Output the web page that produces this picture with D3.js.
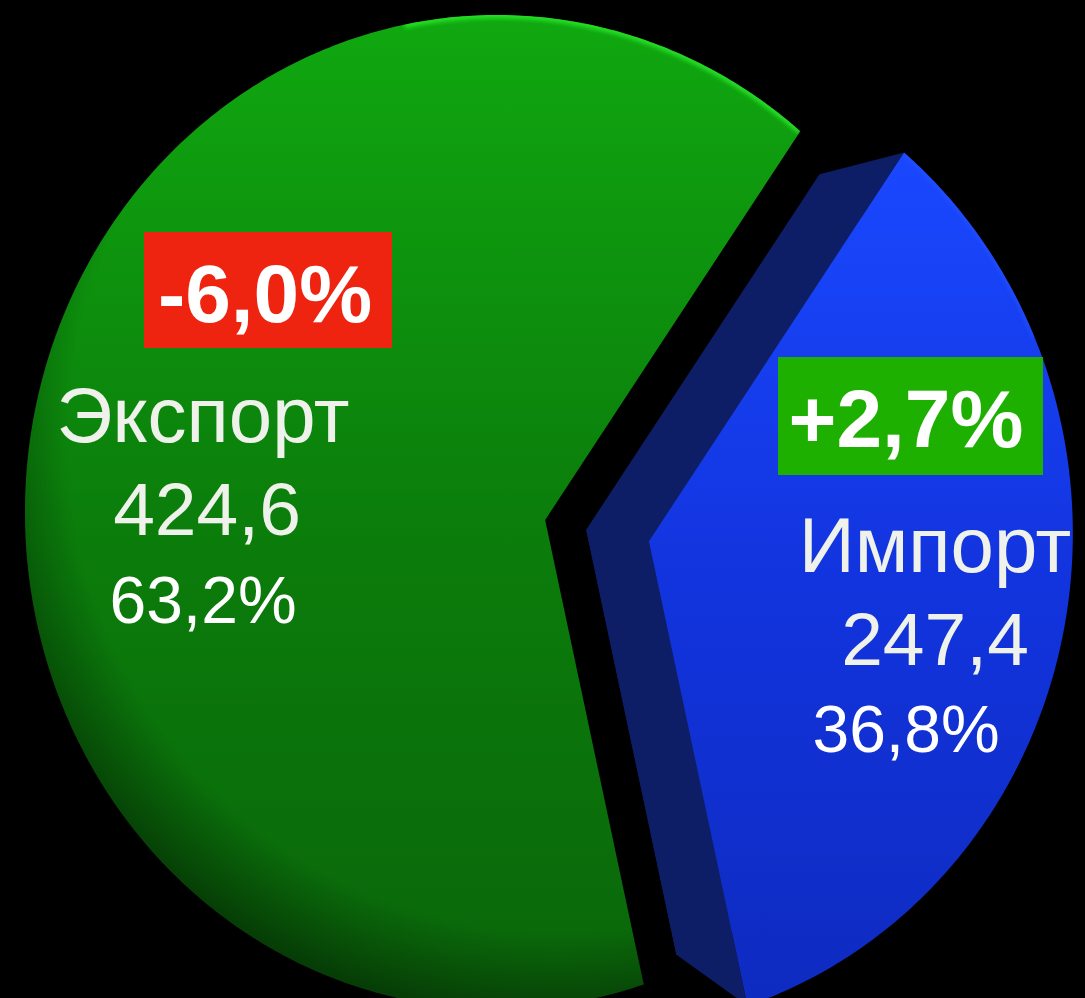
<!DOCTYPE html>
<html>
<head>
<meta charset="utf-8">
<script src="https://cdn.jsdelivr.net/npm/d3@7"></script>
<style>
  html, body { margin: 0; background: #000; }
  svg { display: block; }
</style>
</head>
<body>
<div id="chart"></div>
<script>
// data
const CATEGORIES = ["Экспорт", "Импорт"];
const VALUES = [424.6, 247.4];
const CHANGES = [-6.0, 2.7];

const width = 1085;
const height = 998;

// perspective pie geometry (projected top face)
const ELLIPSE = { cx: 497, cy: 512, rx: 472, ry: 497 };
const APEX_OFFSET = [0.102, 0.016];   // where the pie centre lands inside the ellipse
const START_ANGLE = 167.3 * Math.PI / 180;
const EXPLODE = [0, 106];             // px, per slice
const DEPTH_VP = [-89, 407];          // vanishing point for slice thickness
const DEPTH_K = 0.915;

const TOP_COLORS = [["#10a810", "#0b7e0b", "#0a660a"], ["#1a48ff", "#1234de", "#0e2bc0"]];
const SIDE_COLOR = ["#064a06", "#0e1e66"];
const HIGHLIGHT = ["#2cf02c", "#2c58ff"];
const CHANGE_UP = "#1db000";
const CHANGE_DOWN = "#ee2310";

const LABEL_LAYOUT = [
    { name: [203, 442], value: [207, 535], share: [203, 623], box: [144, 232, 248, 116], change: [265, 322] },
    { name: [935, 572], value: [935, 665], share: [906, 752], box: [778, 357, 265, 118], change: [906, 447] }
];

const FONT = "'Liberation Sans', Arial, Helvetica, sans-serif";

const locale = d3.formatLocale({ decimal: ",", thousands: " ", grouping: [3], currency: ["", ""], minus: "-" });
const fmt1 = locale.format(".1f");
const fmtChange = locale.format("+.1f");

const total = d3.sum(VALUES);
const data = CATEGORIES.map((name, i) => ({ name, value: VALUES[i], change: CHANGES[i] }));

const pie = d3.pie()
    .value(d => d.value)
    .sort(null)
    .startAngle(START_ANGLE)
    .endAngle(START_ANGLE + 2 * Math.PI);

const arcs = pie(data);

// unit circle -> projective "boost" so the centre lands on APEX_OFFSET -> ellipse
function project(theta, rad = 1) {
    const ux = Math.sin(theta) * rad, uy = -Math.cos(theta) * rad;
    const r = Math.hypot(APEX_OFFSET[0], APEX_OFFSET[1]);
    const ex = APEX_OFFSET[0] / r, ey = APEX_OFFSET[1] / r;
    const s = ux * ex + uy * ey;
    const tx = ux - s * ex, ty = uy - s * ey;
    const den = 1 + r * s;
    const s2 = (s + r) / den;
    const f = Math.sqrt(1 - r * r) / den;
    const x = s2 * ex + tx * f, y = s2 * ey + ty * f;
    return [ELLIPSE.cx + x * ELLIPSE.rx, ELLIPSE.cy + y * ELLIPSE.ry];
}

function slicePoints(a, offset) {
    const n = Math.max(8, Math.ceil((a.endAngle - a.startAngle) / 0.01));
    const pts = [project(0, 0)];
    d3.range(n + 1).forEach(k => {
        pts.push(project(a.startAngle + (a.endAngle - a.startAngle) * k / n));
    });
    return pts.map(p => [p[0] + offset[0], p[1] + offset[1]]);
}

function explodeOffset(a, dist) {
    if (!dist) return [0, 0];
    const c = project(0, 0);
    const m = project((a.startAngle + a.endAngle) / 2);
    const len = Math.hypot(m[0] - c[0], m[1] - c[1]);
    return [(m[0] - c[0]) / len * dist, (m[1] - c[1]) / len * dist];
}

const toBack = p => [DEPTH_VP[0] + DEPTH_K * (p[0] - DEPTH_VP[0]), DEPTH_VP[1] + DEPTH_K * (p[1] - DEPTH_VP[1])];

const line = d3.line().curve(d3.curveLinearClosed);

const svg = d3.select("#chart")
    .append("svg")
    .attr("width", width)
    .attr("height", height)
    .attr("viewBox", `0 0 ${width} ${height}`)
    .style("background", "#000");

const defs = svg.append("defs");

TOP_COLORS.forEach((c, i) => {
    const g = defs.append("linearGradient")
        .attr("id", `top${i}`)
        .attr("x1", 0).attr("y1", 0).attr("x2", 0).attr("y2", 1);
    g.append("stop").attr("offset", "0%").attr("stop-color", c[0]);
    g.append("stop").attr("offset", "50%").attr("stop-color", c[1]);
    g.append("stop").attr("offset", "100%").attr("stop-color", c[2]);
});

// soft darkening toward the lower-left rim of the big slice
const edge = defs.append("radialGradient")
    .attr("id", "edgeShade")
    .attr("gradientUnits", "userSpaceOnUse")
    .attr("cx", 560).attr("cy", 440).attr("r", 600);
edge.append("stop").attr("offset", "82%").attr("stop-color", "#000").attr("stop-opacity", 0);
edge.append("stop").attr("offset", "100%").attr("stop-color", "#000").attr("stop-opacity", 0.5);

defs.append("filter").attr("id", "soft")
    .append("feGaussianBlur").attr("stdDeviation", 2);

const slices = svg.append("g")
    .selectAll("g")
    .data(arcs)
    .join("g");

slices.each(function(a, i) {
    const g = d3.select(this);
    const off = explodeOffset(a, EXPLODE[i]);
    const top = slicePoints(a, off);
    const apex = top[0];
    const first = top[1];
    const last = top[top.length - 1];

    // thickness: back face and the two radial faces
    if (EXPLODE[i]) {
        g.append("path")
            .attr("d", line(top.map(toBack)))
            .attr("fill", SIDE_COLOR[i]);
        [first, last].forEach(p => {
            g.append("path")
                .attr("d", line([apex, p, toBack(p), toBack(apex)]))
                .attr("fill", SIDE_COLOR[i]);
        });
    }

    g.append("clipPath").attr("id", `clip${i}`)
        .append("path").attr("d", line(top));

    g.append("path")
        .attr("d", line(top))
        .attr("fill", `url(#top${i})`);

    if (i === 0) {
        g.append("path")
            .attr("d", line(top))
            .attr("fill", "url(#edgeShade)");
    }

    // bright rim highlight near the top
    const hiStart = i === 0 ? a.endAngle - 0.9 : a.startAngle;
    const hiEnd = i === 0 ? a.endAngle : a.startAngle + 0.5;
    const hi = d3.range(0, 41).map(k => project(hiStart + (hiEnd - hiStart) * k / 40))
        .map(p => [p[0] + off[0], p[1] + off[1]]);
    g.append("path")
        .attr("d", d3.line()(hi))
        .attr("fill", "none")
        .attr("stroke", HIGHLIGHT[i])
        .attr("stroke-width", i === 0 ? 7 : 5)
        .attr("stroke-opacity", i === 0 ? 0.8 : 0.5)
        .attr("filter", "url(#soft)")
        .attr("clip-path", `url(#clip${i})`);
});

// labels
const labels = svg.append("g")
    .style("font-family", FONT)
    .attr("text-anchor", "middle");

data.forEach((d, i) => {
    const L = LABEL_LAYOUT[i];
    labels.append("text")
        .attr("x", L.name[0]).attr("y", L.name[1])
        .style("font-size", "78px")
        .attr("fill", "#eef2ea")
        .text(d.name);
    labels.append("text")
        .attr("x", L.value[0]).attr("y", L.value[1])
        .style("font-size", "75px")
        .attr("fill", "#eef2ea")
        .text(fmt1(d.value));
    labels.append("text")
        .attr("x", L.share[0]).attr("y", L.share[1])
        .style("font-size", "66px")
        .attr("fill", "#ffffff")
        .text(fmt1(d.value / total * 100) + "%");

    labels.append("rect")
        .attr("x", L.box[0]).attr("y", L.box[1])
        .attr("width", L.box[2]).attr("height", L.box[3])
        .attr("fill", d.change < 0 ? CHANGE_DOWN : CHANGE_UP);
    labels.append("text")
        .attr("x", L.change[0]).attr("y", L.change[1])
        .style("font-size", "82px")
        .style("font-weight", "bold")
        .attr("fill", "#ffffff")
        .text(fmtChange(d.change) + "%");
});
</script>
</body>
</html>
